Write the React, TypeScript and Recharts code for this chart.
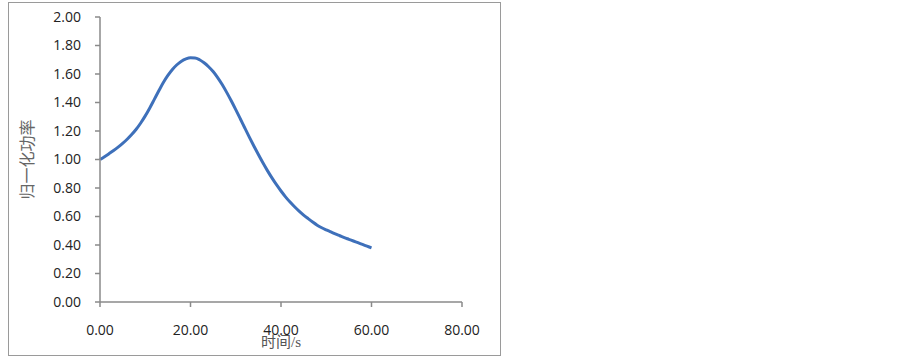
import React from "react";
import { LineChart, Line, XAxis, YAxis } from "recharts";

const timeSeconds = [
  0, 1, 2, 3, 4, 5, 6, 7, 8, 9, 10, 11, 12, 13, 14, 15, 16, 17, 18, 19, 20,
  21, 22, 23, 24, 25, 26, 27, 28, 29, 30, 31, 32, 33, 34, 35, 36, 37, 38, 39, 40,
  41, 42, 43, 44, 45, 46, 47, 48, 49, 50, 51, 52, 53, 54, 55, 56, 57, 58, 59, 60,
];
const normalizedPower = [
  1.0, 1.02, 1.041, 1.063, 1.087, 1.113, 1.142, 1.175, 1.212, 1.256, 1.306,
  1.362, 1.422, 1.482, 1.54, 1.59, 1.632, 1.665, 1.69, 1.706, 1.714,
  1.713, 1.7, 1.679, 1.651, 1.617, 1.575, 1.526, 1.471, 1.412, 1.35,
  1.286, 1.221, 1.157, 1.095, 1.035, 0.977, 0.922, 0.871, 0.823, 0.779,
  0.738, 0.701, 0.668, 0.638, 0.61, 0.585, 0.561, 0.539, 0.521, 0.506,
  0.492, 0.478, 0.465, 0.452, 0.44, 0.428, 0.416, 0.404, 0.392, 0.38,
];
const xTicks = [0, 20, 40, 60, 80];
const yTicks = [0, 0.2, 0.4, 0.6, 0.8, 1.0, 1.2, 1.4, 1.6, 1.8, 2.0];
const xTitle = "时间/s";
const yTitle = "归一化功率";

const data = timeSeconds.map((t, i) => ({ t, p: normalizedPower[i] }));

const axisColor = "#8a8a8a";
const tickStyle = { fontFamily: "'Open Sans', sans-serif", fontSize: 14, fill: "#222" };

export default function App() {
  return (
    <div style={{ position: "absolute", left: 0, top: 0, width: 903, height: 358, background: "#fff" }}>
      <div
        style={{
          position: "absolute",
          left: 8,
          top: 2,
          width: 491,
          height: 352,
          border: "1px solid #9a9a9a",
        }}
      />
      <div style={{ position: "absolute", left: 0, top: 0 }}>
        <LineChart
          width={903}
          height={358}
          data={data}
          margin={{ top: 17, right: 441, bottom: 26, left: 40 }}
        >
          <XAxis
            dataKey="t"
            type="number"
            domain={[0, 80]}
            ticks={xTicks}
            tickFormatter={(v: number) => v.toFixed(2)}
            stroke={axisColor}
            strokeWidth={1.5}
            tick={tickStyle}
            tickSize={5}
            tickMargin={18}
            height={30}
            interval={0}
            label={{
              content: (props: any) => {
                const vb = props.viewBox;
                return (
                  <text
                    x={vb.x + vb.width / 2}
                    y={347}
                    textAnchor="middle"
                    fontFamily="'Liberation Serif', 'Noto Sans CJK SC', serif"
                    fontSize={15}
                    fill="#555"
                  >
                    {xTitle}
                  </text>
                );
              },
            }}
          />
          <YAxis
            type="number"
            domain={[0, 2]}
            ticks={yTicks}
            tickFormatter={(v: number) => v.toFixed(2)}
            stroke={axisColor}
            strokeWidth={1.5}
            tick={tickStyle}
            tickSize={5}
            tickMargin={14}
            width={60}
            interval={0}
            label={{
              content: (props: any) => {
                const vb = props.viewBox;
                const cx = 26;
                const cy = vb.y + vb.height / 2;
                return (
                  <text
                    x={cx}
                    y={cy}
                    textAnchor="middle"
                    dominantBaseline="central"
                    transform={`rotate(-90, ${cx}, ${cy})`}
                    fontFamily="'Noto Sans CJK SC', sans-serif"
                    fontSize={16}
                    fill="#666"
                  >
                    {yTitle}
                  </text>
                );
              },
            }}
          />
          <Line
            type="monotone"
            dataKey="p"
            stroke="#3E70BA"
            strokeWidth={3}
            dot={false}
            isAnimationActive={false}
          />
        </LineChart>
      </div>
    </div>
  );
}
